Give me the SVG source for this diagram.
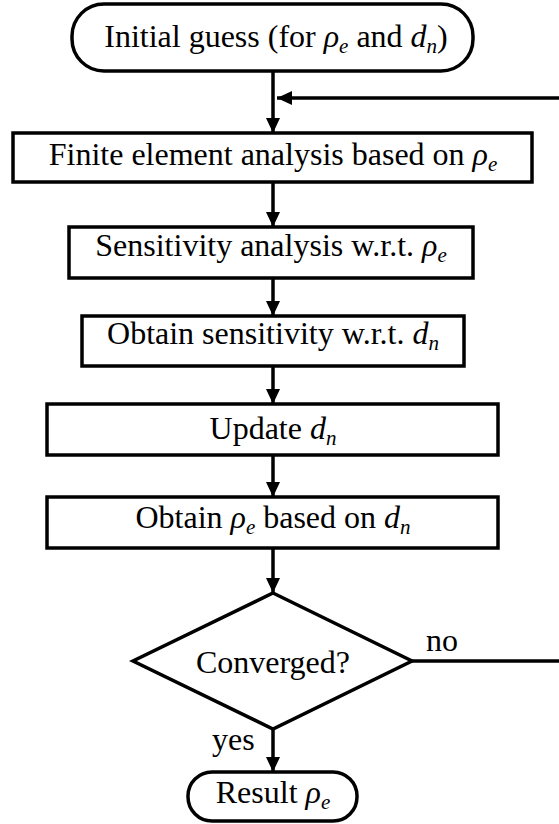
<svg xmlns="http://www.w3.org/2000/svg" width="559" height="824" viewBox="0 0 559 824">
  <style>
    .shape { fill: #fff; stroke: #000; stroke-width: 3.5; }
    .line { fill: none; stroke: #000; stroke-width: 3.5; }
    text { font-family: "Liberation Serif", "Times New Roman", serif; font-size: 32px; fill: #000; }
    .c { text-anchor: middle; }
    .i { font-style: italic; }
    .sub { font-style: italic; font-size: 21px; }
  </style>
  <defs>
    <marker id="arrow" markerUnits="userSpaceOnUse" markerWidth="14" markerHeight="15" refX="15" refY="7" orient="auto">
      <path d="M0,0 L15,7 L0,14 Z" fill="#000"/>
    </marker>
  </defs>

  <!-- connectors -->
  <g id="connectors">
    <line class="line" x1="273" y1="72" x2="273" y2="133" marker-end="url(#arrow)"/>
    <line class="line" x1="559" y1="98" x2="277" y2="98" marker-end="url(#arrow)"/>
    <line class="line" x1="273" y1="182" x2="273" y2="227" marker-end="url(#arrow)"/>
    <line class="line" x1="273" y1="278" x2="273" y2="316" marker-end="url(#arrow)"/>
    <line class="line" x1="273" y1="366" x2="273" y2="404" marker-end="url(#arrow)"/>
    <line class="line" x1="273" y1="455" x2="273" y2="497" marker-end="url(#arrow)"/>
    <line class="line" x1="273" y1="548" x2="273" y2="593" marker-end="url(#arrow)"/>
    <line class="line" x1="273" y1="729" x2="273" y2="772" marker-end="url(#arrow)"/>
    <line class="line" x1="412" y1="661" x2="559" y2="661"/>
    <text x="426" y="651">no</text>
    <text x="212" y="750">yes</text>
  </g>

  <!-- start terminal -->
  <g id="start">
    <rect class="shape" x="72" y="4" width="401" height="67" rx="32" ry="32"/>
    <text class="c" x="276" y="47">Initial guess (for <tspan class="i">ρ</tspan><tspan class="sub" dy="6">e</tspan><tspan dy="-6"> and </tspan><tspan class="i">d</tspan><tspan class="sub" dy="6">n</tspan><tspan dy="-6">)</tspan></text>
  </g>

  <!-- finite element analysis -->
  <g id="fea">
    <rect class="shape" x="13" y="133" width="519" height="49"/>
    <text class="c" x="273" y="165">Finite element analysis based on <tspan class="i">ρ</tspan><tspan class="sub" dy="6">e</tspan></text>
  </g>

  <!-- sensitivity analysis -->
  <g id="sens-rho">
    <rect class="shape" x="69" y="227" width="404" height="51"/>
    <text class="c" x="271" y="256">Sensitivity analysis w.r.t. <tspan class="i">ρ</tspan><tspan class="sub" dy="6">e</tspan></text>
  </g>

  <!-- sensitivity w.r.t. design variables -->
  <g id="sens-d">
    <rect class="shape" x="82" y="316" width="382" height="50"/>
    <text class="c" x="273" y="344">Obtain sensitivity w.r.t. <tspan class="i">d</tspan><tspan class="sub" dy="6">n</tspan></text>
  </g>

  <!-- update -->
  <g id="update">
    <rect class="shape" x="47" y="404" width="451" height="51"/>
    <text class="c" x="273" y="439">Update <tspan class="i">d</tspan><tspan class="sub" dy="6">n</tspan></text>
  </g>

  <!-- density from design variables -->
  <g id="density">
    <rect class="shape" x="47" y="497" width="451" height="51"/>
    <text class="c" x="273" y="528">Obtain <tspan class="i">ρ</tspan><tspan class="sub" dy="6">e</tspan><tspan dy="-6"> based on </tspan><tspan class="i">d</tspan><tspan class="sub" dy="6">n</tspan></text>
  </g>

  <!-- convergence check -->
  <g id="converged">
    <polygon class="shape" points="273,593 412,661 273,729 133,661"/>
    <text class="c" x="273" y="673">Converged?</text>
  </g>

  <!-- end terminal -->
  <g id="result">
    <rect class="shape" x="188" y="772" width="169" height="49" rx="24" ry="24"/>
    <text class="c" x="273" y="803">Result <tspan class="i">ρ</tspan><tspan class="sub" dy="6">e</tspan></text>
  </g>
</svg>
